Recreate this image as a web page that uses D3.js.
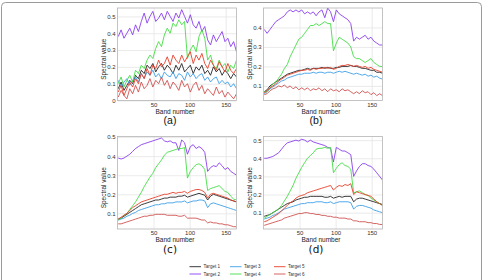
<!DOCTYPE html>
<html>
<head>
<meta charset="utf-8">
<script src="https://cdn.jsdelivr.net/npm/d3@7"></script>
<style>
  body { margin: 0; background: #fff; }
  svg { display: block; font-family: "Liberation Sans", Arial, sans-serif; }
</style>
</head>
<body>
<svg id="chart" width="485" height="280"></svg>
<script>
// band numbers sampled every 4 bands
const bands = d3.range(1, 166, 4);
const targetNames = ['Target 1', 'Target 2', 'Target 3', 'Target 4', 'Target 5', 'Target 6'];
const colors = ['#262626', '#8a40ee', '#3d9fe8', '#44de44', '#e8402a', '#cf5250'];

// (a)
const a_t1 = [0.07,0.11,0.06,0.09,0.12,0.10,0.15,0.13,0.18,0.16,0.21,0.19,0.22,0.17,0.20,0.22,0.18,0.21,0.19,0.16,0.21,0.18,0.22,0.17,0.19,0.21,0.16,0.20,0.18,0.21,0.16,0.18,0.15,0.20,0.17,0.19,0.15,0.18,0.16,0.13,0.16,0.14];
const a_t2 = [0.38,0.42,0.37,0.40,0.43,0.39,0.45,0.41,0.47,0.52,0.46,0.50,0.53,0.47,0.49,0.52,0.48,0.53,0.50,0.47,0.52,0.49,0.54,0.50,0.46,0.51,0.45,0.43,0.47,0.41,0.44,0.36,0.33,0.39,0.35,0.38,0.41,0.35,0.37,0.32,0.35,0.29];
const a_t3 = [0.12,0.08,0.11,0.13,0.09,0.12,0.14,0.11,0.16,0.13,0.17,0.15,0.18,0.14,0.16,0.13,0.17,0.15,0.14,0.17,0.13,0.16,0.15,0.12,0.17,0.14,0.16,0.13,0.15,0.16,0.12,0.14,0.11,0.13,0.14,0.10,0.12,0.10,0.11,0.08,0.10,0.07];
const a_t4 = [0.10,0.14,0.08,0.12,0.15,0.11,0.18,0.16,0.21,0.19,0.24,0.27,0.25,0.31,0.35,0.32,0.39,0.43,0.40,0.46,0.44,0.48,0.45,0.47,0.25,0.30,0.33,0.29,0.38,0.42,0.37,0.24,0.27,0.21,0.19,0.24,0.20,0.22,0.17,0.21,0.19,0.24];
const a_t5 = [0.05,0.09,0.03,0.07,0.11,0.08,0.13,0.10,0.16,0.13,0.19,0.15,0.21,0.19,0.24,0.20,0.22,0.26,0.21,0.27,0.24,0.22,0.27,0.23,0.26,0.29,0.22,0.27,0.24,0.28,0.22,0.19,0.24,0.21,0.18,0.23,0.20,0.17,0.22,0.18,0.16,0.19];
const a_t6 = [0.02,0.06,0.03,0.01,0.07,0.04,0.09,0.05,0.11,0.07,0.09,0.13,0.08,0.12,0.10,0.14,0.09,0.12,0.07,0.11,0.09,0.06,0.12,0.08,0.10,0.05,0.09,0.11,0.06,0.09,0.04,0.07,0.05,0.03,0.08,0.04,0.06,0.02,0.05,0.03,0.01,0.04];

// (b)
const b_t1 = [0.07,0.08,0.10,0.11,0.12,0.13,0.14,0.15,0.16,0.165,0.17,0.175,0.18,0.18,0.185,0.19,0.185,0.19,0.19,0.19,0.195,0.19,0.195,0.19,0.19,0.195,0.195,0.20,0.20,0.20,0.205,0.20,0.20,0.195,0.19,0.19,0.185,0.18,0.18,0.17,0.17,0.165];
const b_t2 = [0.39,0.37,0.39,0.41,0.43,0.44,0.45,0.46,0.48,0.49,0.48,0.49,0.48,0.49,0.47,0.48,0.47,0.48,0.46,0.48,0.49,0.45,0.50,0.48,0.43,0.49,0.47,0.46,0.45,0.44,0.42,0.33,0.35,0.34,0.35,0.36,0.34,0.35,0.33,0.32,0.31,0.31];
const b_t3 = [0.06,0.07,0.085,0.095,0.105,0.115,0.125,0.13,0.14,0.145,0.15,0.155,0.16,0.16,0.165,0.165,0.165,0.17,0.165,0.17,0.17,0.165,0.17,0.17,0.165,0.17,0.175,0.17,0.175,0.17,0.165,0.16,0.165,0.16,0.155,0.16,0.15,0.155,0.145,0.15,0.14,0.135];
const b_t4 = [0.07,0.07,0.09,0.11,0.12,0.14,0.16,0.19,0.21,0.25,0.28,0.31,0.34,0.35,0.37,0.39,0.41,0.41,0.42,0.41,0.42,0.43,0.42,0.42,0.28,0.32,0.35,0.34,0.33,0.32,0.30,0.25,0.24,0.24,0.23,0.22,0.23,0.24,0.22,0.21,0.20,0.20];
const b_t5 = [0.065,0.075,0.09,0.10,0.11,0.125,0.135,0.145,0.155,0.16,0.165,0.17,0.175,0.18,0.18,0.185,0.18,0.19,0.185,0.19,0.19,0.195,0.19,0.195,0.185,0.19,0.20,0.205,0.205,0.21,0.205,0.20,0.205,0.20,0.195,0.20,0.19,0.195,0.185,0.18,0.175,0.17];
const b_t6 = [0.055,0.06,0.075,0.085,0.09,0.10,0.095,0.105,0.09,0.10,0.085,0.095,0.08,0.09,0.08,0.09,0.075,0.085,0.08,0.09,0.075,0.085,0.07,0.085,0.075,0.08,0.07,0.085,0.075,0.08,0.07,0.06,0.07,0.06,0.075,0.065,0.07,0.055,0.065,0.05,0.06,0.05];

// (c)
const c_t1 = [0.07,0.075,0.085,0.095,0.105,0.115,0.125,0.135,0.145,0.15,0.155,0.16,0.165,0.17,0.17,0.175,0.18,0.18,0.185,0.185,0.185,0.19,0.19,0.195,0.185,0.19,0.195,0.20,0.205,0.20,0.195,0.17,0.19,0.20,0.195,0.19,0.185,0.18,0.175,0.17,0.165,0.16];
const c_t2 = [0.39,0.385,0.39,0.40,0.41,0.425,0.44,0.45,0.46,0.465,0.47,0.475,0.48,0.485,0.49,0.495,0.48,0.475,0.48,0.47,0.47,0.43,0.485,0.47,0.41,0.45,0.46,0.44,0.45,0.44,0.42,0.32,0.34,0.35,0.345,0.365,0.35,0.33,0.34,0.32,0.31,0.30];
const c_t3 = [0.065,0.07,0.075,0.085,0.09,0.10,0.105,0.115,0.12,0.125,0.13,0.135,0.14,0.145,0.145,0.15,0.15,0.155,0.155,0.155,0.16,0.16,0.16,0.165,0.155,0.16,0.165,0.165,0.17,0.17,0.165,0.13,0.15,0.155,0.15,0.145,0.14,0.135,0.13,0.125,0.12,0.115];
const c_t4 = [0.065,0.075,0.09,0.10,0.12,0.14,0.16,0.185,0.21,0.24,0.265,0.29,0.31,0.34,0.36,0.38,0.405,0.42,0.425,0.43,0.435,0.44,0.44,0.445,0.285,0.32,0.34,0.355,0.36,0.35,0.33,0.22,0.23,0.235,0.24,0.245,0.23,0.215,0.21,0.19,0.175,0.17];
const c_t5 = [0.07,0.08,0.09,0.10,0.115,0.13,0.14,0.15,0.16,0.165,0.17,0.175,0.18,0.185,0.19,0.195,0.20,0.20,0.205,0.21,0.205,0.21,0.21,0.215,0.205,0.215,0.22,0.225,0.225,0.22,0.21,0.18,0.20,0.205,0.20,0.195,0.19,0.185,0.18,0.17,0.165,0.16];
const c_t6 = [0.045,0.045,0.05,0.055,0.06,0.065,0.07,0.075,0.08,0.085,0.085,0.09,0.09,0.095,0.095,0.095,0.095,0.09,0.09,0.09,0.09,0.085,0.085,0.09,0.075,0.075,0.075,0.075,0.07,0.065,0.065,0.05,0.055,0.05,0.05,0.045,0.045,0.04,0.04,0.035,0.03,0.03];

// (d)
const d_t1 = [0.08,0.085,0.09,0.10,0.11,0.12,0.13,0.14,0.15,0.155,0.16,0.17,0.175,0.18,0.185,0.185,0.19,0.19,0.19,0.19,0.19,0.185,0.185,0.19,0.18,0.185,0.19,0.185,0.19,0.19,0.19,0.16,0.175,0.18,0.18,0.175,0.17,0.165,0.16,0.155,0.15,0.145];
const d_t2 = [0.40,0.40,0.405,0.41,0.42,0.43,0.45,0.47,0.485,0.49,0.495,0.50,0.495,0.505,0.50,0.49,0.50,0.49,0.485,0.48,0.475,0.47,0.46,0.455,0.38,0.46,0.45,0.44,0.44,0.43,0.42,0.30,0.33,0.355,0.37,0.37,0.36,0.355,0.34,0.32,0.30,0.28];
const d_t3 = [0.065,0.07,0.075,0.085,0.09,0.10,0.11,0.12,0.125,0.13,0.135,0.14,0.145,0.15,0.15,0.155,0.155,0.155,0.16,0.16,0.16,0.155,0.155,0.16,0.15,0.155,0.16,0.16,0.16,0.16,0.155,0.12,0.135,0.14,0.14,0.135,0.13,0.125,0.115,0.11,0.105,0.10];
const d_t4 = [0.07,0.08,0.09,0.10,0.11,0.12,0.14,0.165,0.19,0.22,0.25,0.29,0.32,0.35,0.375,0.40,0.415,0.43,0.45,0.455,0.455,0.46,0.455,0.46,0.32,0.345,0.365,0.375,0.36,0.355,0.34,0.21,0.215,0.22,0.21,0.20,0.195,0.18,0.17,0.16,0.15,0.14];
const d_t5 = [0.05,0.055,0.065,0.075,0.085,0.095,0.11,0.125,0.14,0.155,0.165,0.18,0.19,0.195,0.20,0.21,0.215,0.22,0.225,0.23,0.235,0.24,0.245,0.25,0.225,0.24,0.25,0.245,0.255,0.25,0.26,0.20,0.215,0.21,0.205,0.20,0.195,0.19,0.175,0.16,0.15,0.14];
const d_t6 = [0.03,0.035,0.04,0.045,0.05,0.055,0.06,0.07,0.075,0.08,0.085,0.09,0.095,0.095,0.10,0.10,0.095,0.095,0.09,0.09,0.085,0.085,0.08,0.08,0.075,0.075,0.07,0.07,0.07,0.065,0.065,0.055,0.055,0.05,0.05,0.05,0.045,0.045,0.04,0.04,0.035,0.035];

const xTicks = [50, 100, 150];

const panels = [
  { tag: '(a)', left: 117.5, top: 8, yDomain: [0, 0.55], yTicks: [0, 0.1, 0.2, 0.3, 0.4, 0.5],
    series: [a_t1, a_t2, a_t3, a_t4, a_t5, a_t6], font: '"Liberation Sans", Arial, sans-serif' },
  { tag: '(b)', left: 263.5, top: 8, yDomain: [0.025, 0.5], yTicks: [0.1, 0.2, 0.3, 0.4],
    series: [b_t1, b_t2, b_t3, b_t4, b_t5, b_t6], font: '"Liberation Sans", Arial, sans-serif' },
  { tag: '(c)', left: 117.5, top: 136.5, yDomain: [0.018, 0.503], yTicks: [0.1, 0.2, 0.3, 0.4, 0.5],
    series: [c_t1, c_t2, c_t3, c_t4, c_t5, c_t6], font: '"DejaVu Sans", sans-serif' },
  { tag: '(d)', left: 263.5, top: 136.5, yDomain: [0.01, 0.52], yTicks: [0.1, 0.2, 0.3, 0.4, 0.5],
    series: [d_t1, d_t2, d_t3, d_t4, d_t5, d_t6], font: '"DejaVu Sans", sans-serif' }
];

const W = 119, H = 92.5;
const svg = d3.select('#chart');

// outer frame
svg.append('rect')
  .attr('x', 1.5).attr('y', 2.5)
  .attr('width', 480).attr('height', 300)
  .attr('rx', 4)
  .attr('fill', 'none')
  .attr('stroke', '#9a9a9a');

const fmt = (d) => (d === 0 ? '0' : d3.format('.1f')(d));

panels.forEach((p, k) => {
  const x = d3.scaleLinear().domain([0, 165]).range([p.left, p.left + W]);
  const y = d3.scaleLinear().domain(p.yDomain).range([p.top + H, p.top]);
  const g = svg.append('g');

  // grid + tick labels
  const gx = g.append('g')
    .attr('transform', `translate(0,${p.top + H})`)
    .call(d3.axisBottom(x).tickValues(xTicks).tickSize(-H).tickPadding(2));
  const gy = g.append('g')
    .attr('transform', `translate(${p.left},0)`)
    .call(d3.axisLeft(y).tickValues(p.yTicks).tickSize(-W).tickPadding(2).tickFormat(fmt));
  [gx, gy].forEach((a) => {
    a.select('.domain').remove();
    a.selectAll('line').attr('stroke', '#e4e4e4').attr('stroke-width', 0.8);
    a.selectAll('text')
      .attr('fill', '#333')
      .style('font-size', '6px')
      .style('font-family', '"Liberation Sans", Arial, sans-serif');
  });

  svg.append('clipPath').attr('id', 'clip' + k)
    .append('rect')
    .attr('x', p.left).attr('y', p.top)
    .attr('width', W).attr('height', H);

  const line = d3.line()
    .x((d, i) => x(bands[i]))
    .y((d) => y(d));

  g.append('g')
    .attr('clip-path', `url(#clip${k})`)
    .selectAll('path')
    .data(p.series)
    .enter()
    .append('path')
    .attr('d', line)
    .attr('fill', 'none')
    .attr('stroke', (d, i) => colors[i])
    .attr('stroke-width', 0.9)
    .attr('stroke-linejoin', 'round');

  // box
  g.append('rect')
    .attr('x', p.left).attr('y', p.top)
    .attr('width', W).attr('height', H)
    .attr('fill', 'none')
    .attr('stroke', '#b5b5b5')
    .attr('stroke-width', 0.8);

  const cx = p.left + W / 2;
  g.append('text')
    .attr('x', cx - 2).attr('y', p.top + H + 13)
    .attr('text-anchor', 'middle')
    .attr('fill', '#222')
    .style('font-size', '6.5px')
    .text('Band number');

  g.append('text')
    .attr('transform', `translate(${p.left - 12},${p.top + H / 2 + 5}) rotate(-90)`)
    .attr('text-anchor', 'middle')
    .attr('fill', '#222')
    .style('font-size', '6.5px')
    .text('Spectral value');

  g.append('text')
    .attr('x', cx - 7).attr('y', p.top + H + 23.5)
    .attr('text-anchor', 'middle')
    .attr('fill', '#111')
    .style('font-size', '10.5px')
    .style('font-family', p.font)
    .text(p.tag);
});

// legend
const legX = [189.5, 230, 274];
const legY = [266.7, 274];
const leg = svg.append('g');
targetNames.forEach((name, i) => {
  const col = Math.floor(i / 2), row = i % 2;
  const lx = legX[col], ly = legY[row];
  leg.append('line')
    .attr('x1', lx).attr('x2', lx + 11.5)
    .attr('y1', ly).attr('y2', ly)
    .attr('stroke', colors[i])
    .attr('stroke-width', 0.9);
  leg.append('text')
    .attr('x', lx + 14).attr('y', ly + 1.6)
    .attr('fill', '#333')
    .style('font-size', '4.6px')
    .text(name);
});
</script>
</body>
</html>
